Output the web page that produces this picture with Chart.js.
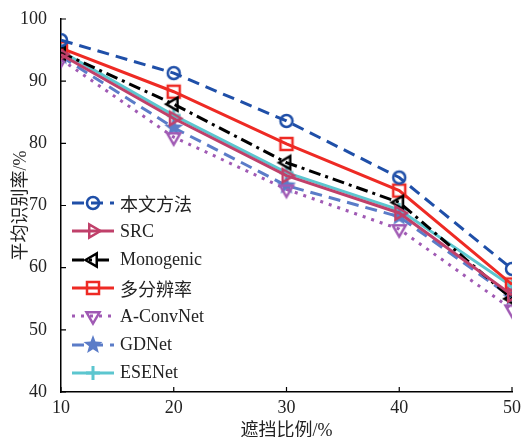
<!DOCTYPE html>
<html>
<head>
<meta charset="utf-8">
<script src="https://cdn.jsdelivr.net/npm/chart.js@4"></script>
<style>
  body { margin: 0; background: #fff; }
  #wrap { position: relative; width: 522px; height: 437px; }
  #legend { position: absolute; left: 72px; top: 189px; font-family: "Liberation Serif", "Noto Sans CJK SC", serif; font-size: 18px; color: #222; }
  .row { height: 28.3px; display: flex; align-items: center; }
  .row canvas { margin-right: 6px; }
</style>
</head>
<body>
<div id="wrap">
  <canvas id="myChart" width="522" height="437"></canvas>
  <div id="legend"></div>
</div>
<script>
// occlusion ratio (x) and recognition rate (y)
const ratios = [10, 20, 30, 40, 50];
const names  = ['本文方法', 'SRC', 'Monogenic', '多分辨率', 'A-ConvNet', 'GDNet', 'ESENet'];

const ours      = [96.6, 91.3, 83.6, 74.5, 59.8];
const src       = [94.3, 84.0, 74.8, 68.8, 55.6];
const monogenic = [94.6, 86.3, 76.9, 70.5, 55.0];
const multires  = [95.3, 88.3, 79.9, 72.4, 57.3];
const aconvnet  = [93.5, 81.0, 72.6, 66.2, 53.3];
const gdnet     = [94.0, 82.5, 73.2, 68.2, 55.2];
const esenet    = [94.8, 84.5, 75.3, 69.3, 57.0];

const xTicks = [10, 20, 30, 40, 50];
const yTicks = [40, 50, 60, 70, 80, 90, 100];

// look of every series
const colors = ['#1f4fa8', '#c0406a', '#000000', '#ee2a24', '#a05ab4', '#5b7cc8', '#5cc6cf'];
const dashes = [[12, 7], [], [12, 5, 3, 5], [], [3, 6], [12, 7], []];
const marks  = ['circle', 'right', 'left', 'square', 'down', 'star', 'plus'];
const values = [ours, src, monogenic, multires, aconvnet, gdnet, esenet];

// draw one marker on a context at (cx, cy)
function drawMark(c, kind, color, cx, cy) {
  c.save();
  c.strokeStyle = color;
  c.fillStyle = color;
  c.lineWidth = 2.5;
  c.setLineDash([]);
  c.beginPath();
  if (kind == 'circle') {
    c.arc(cx, cy, 6, 0, Math.PI * 2);
    c.stroke();
  } else if (kind == 'square') {
    c.rect(cx - 6, cy - 6, 12, 12);
    c.stroke();
  } else if (kind == 'right' || kind == 'left' || kind == 'down') {
    const ang = kind == 'right' ? 0 : (kind == 'left' ? Math.PI : Math.PI / 2);
    for (let k = 0; k < 3; k++) {
      const a = ang + k * Math.PI * 2 / 3;
      const px = cx + 7.5 * Math.cos(a), py = cy + 7.5 * Math.sin(a);
      if (k == 0) c.moveTo(px, py); else c.lineTo(px, py);
    }
    c.closePath();
    c.stroke();
  } else if (kind == 'star') {
    for (let k = 0; k < 10; k++) {
      const r = k % 2 == 0 ? 10 : 4.2;
      const a = -Math.PI / 2 + k * Math.PI / 5;
      const px = cx + r * Math.cos(a), py = cy + r * Math.sin(a);
      if (k == 0) c.moveTo(px, py); else c.lineTo(px, py);
    }
    c.closePath();
    c.fill();
  } else if (kind == 'plus') {
    c.lineWidth = 3;
    c.moveTo(cx - 7, cy); c.lineTo(cx + 7, cy);
    c.moveTo(cx, cy - 7); c.lineTo(cx, cy + 7);
    c.stroke();
  }
  c.restore();
}

function markerImage(kind, color) {
  const cv = document.createElement('canvas');
  cv.width = 24; cv.height = 24;
  drawMark(cv.getContext('2d'), kind, color, 12, 12);
  return cv;
}

const datasets = names.map((n, i) => ({
  label: n,
  data: values[i],
  borderColor: colors[i],
  backgroundColor: colors[i],
  borderWidth: 3,
  borderDash: dashes[i],
  pointStyle: markerImage(marks[i], colors[i]),
  tension: 0
}));

// inward ticks like the original figure
const inwardTicks = {
  id: 'inwardTicks',
  afterDatasetsDraw(chart) {
    const c = chart.ctx, xs = chart.scales.x, ys = chart.scales.y;
    c.save();
    c.strokeStyle = '#000';
    c.lineWidth = 1.2;
    c.beginPath();
    xTicks.forEach(v => { const px = xs.getPixelForValue(v); c.moveTo(px, ys.bottom); c.lineTo(px, ys.bottom - 5); });
    yTicks.forEach(v => { const py = ys.getPixelForValue(v); c.moveTo(xs.left, py); c.lineTo(xs.left + 5, py); });
    c.stroke();
    c.restore();
  }
};

const font = { family: '"Liberation Serif", "Noto Sans CJK SC", serif', size: 18 };

const ctx = document.getElementById('myChart').getContext('2d');
const myChart = new Chart(ctx, {
  type: 'line',
  data: { labels: ratios, datasets: datasets },
  options: {
    responsive: false,
    animation: false,
    layout: { padding: { top: 19, right: 10, left: 0, bottom: 0 } },
    plugins: { legend: { display: false }, tooltip: { enabled: false } },
    scales: {
      x: {
        type: 'linear', min: 10, max: 50,
        afterBuildTicks: s => { s.ticks = xTicks.map(v => ({ value: v })); },
        ticks: { font: font, color: '#222', padding: -3, maxRotation: 0 },
        grid: { display: false },
        border: { display: true, color: '#000', width: 1.5 },
        title: { display: true, text: '遮挡比例/%', font: font, color: '#222', padding: { top: 0, bottom: -5 } },
        afterFit: s => { s.height = 45; }
      },
      y: {
        type: 'linear', min: 40, max: 100,
        afterBuildTicks: s => { s.ticks = yTicks.map(v => ({ value: v })); },
        ticks: { font: font, color: '#222', padding: 6 },
        grid: { display: false },
        border: { display: true, color: '#000', width: 1.5 },
        title: { display: true, text: '平均识别率/%', font: font, color: '#222', padding: { top: 10, bottom: 0 } },
        afterFit: s => { s.width = 61; }
      }
    }
  },
  plugins: [inwardTicks]
});

// legend: line sample with marker, then the name
const legend = document.getElementById('legend');
names.forEach((n, i) => {
  const row = document.createElement('div');
  row.className = 'row';
  const cv = document.createElement('canvas');
  cv.width = 42; cv.height = 24;
  const c = cv.getContext('2d');
  c.strokeStyle = colors[i];
  c.lineWidth = 3;
  c.setLineDash(dashes[i]);
  c.beginPath(); c.moveTo(0, 12); c.lineTo(42, 12); c.stroke();
  drawMark(c, marks[i], colors[i], 21, 12);
  const sp = document.createElement('span');
  sp.innerText = n;
  row.appendChild(cv);
  row.appendChild(sp);
  legend.appendChild(row);
});
</script>
</body>
</html>
